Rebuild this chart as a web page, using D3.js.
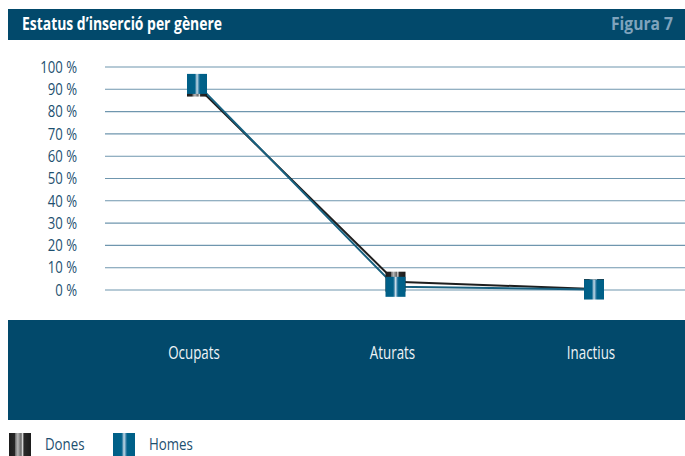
<!DOCTYPE html>
<html><head><meta charset="utf-8">
<script src="https://cdn.jsdelivr.net/npm/d3@7"></script>
<style>
body{margin:0;background:#fff;}
svg{display:block;}
text{font-family:"Open Sans",sans-serif;}
</style></head>
<body><svg id="c" width="685" height="456"></svg>
<script>
const categories = ["Ocupats","Aturats","Inactius"];
const dones = [91, 3.5, 0.2];
const homes = [92.2, 1.2, 0];
const yTicks = [0,10,20,30,40,50,60,70,80,90,100];
const seriesNames = ["Dones","Homes"];
const title = "Estatus d’inserció per gènere";
const figLabel = "Figura 7";

const svg = d3.select("#c");
const navy = "#02496b";
const defs = svg.append("defs");

function grad(id, stops){
  const g = defs.append("linearGradient").attr("id",id).attr("x1","0%").attr("x2","100%").attr("y1","0%").attr("y2","0%");
  stops.forEach(s=>g.append("stop").attr("offset",s[0]+"%").attr("stop-color",s[1]));
}
grad("gD",[[0,"#1c1c1c"],[25,"#262626"],[30,"#7a7a7a"],[40,"#b5b5b5"],[48,"#8a8a8a"],[55,"#6a6a6a"],[62,"#e0e0e0"],[68,"#2a2a2a"],[100,"#1c1c1c"]]);
grad("gH",[[0,"#005f87"],[38,"#00628a"],[44,"#4f8fb0"],[50,"#c6dbe6"],[55,"#7fb0cc"],[60,"#2f7aa0"],[66,"#00628a"],[100,"#005f87"]]);

// header
svg.append("rect").attr("x",8).attr("y",9).attr("width",677).attr("height",31).attr("fill",navy);
svg.append("text").attr("x",22).attr("y",30).attr("fill","#fff").attr("font-weight","bold").attr("font-size",17).text(title).attr("data-w",200);
svg.append("text").attr("x",673).attr("y",30).attr("text-anchor","end").attr("fill","#7fa3bd").attr("font-weight","bold").attr("font-size",17).text(figLabel).attr("data-w",62);

const y = d3.scaleLinear().domain([0,100]).range([289.5,66.5]);
const x = d3.scalePoint().domain(categories).range([197,594]);

// grid
const yAxis = d3.axisLeft(y).tickValues(yTicks).tickSize(-580).tickFormat(d=>d+" %");
const ga = svg.append("g").attr("transform","translate(105,0)").call(yAxis);
ga.select(".domain").remove();
ga.selectAll(".tick line").attr("stroke","#6f96ae").attr("stroke-width",1.1);
ga.selectAll(".tick text").attr("x",-28).attr("fill","#1d4f6f").attr("font-size",16).attr("dy","0.36em").attr("font-family","Open Sans").attr("data-k",0.82);

// bottom band
svg.append("rect").attr("x",8).attr("y",320).attr("width",677).attr("height",100).attr("fill",navy);
svg.append("g").selectAll("text").data(categories).join("text")
  .attr("x",d=>x(d)-3).attr("y",359).attr("text-anchor","middle").attr("fill","#eef3f6").attr("font-size",18).attr("data-k",0.74).text(d=>d);

// lines
const line = d3.line().x((d,i)=>x(categories[i])).y(d=>y(d));
svg.append("path").datum(dones).attr("d",line).attr("fill","none").attr("stroke","#1e1e1e").attr("stroke-width",2);
svg.append("path").datum(homes).attr("d",line).attr("fill","none").attr("stroke","#17607f").attr("stroke-width",2);

const ms = 20;
svg.append("g").selectAll("rect").data(dones).join("rect")
  .attr("x",(d,i)=>x(categories[i])-ms/2).attr("y",d=>y(d)-ms/2).attr("width",ms).attr("height",ms).attr("fill","url(#gD)");
svg.append("g").selectAll("rect").data(homes).join("rect")
  .attr("x",(d,i)=>x(categories[i])-ms/2).attr("y",d=>y(d)-ms/2).attr("width",ms).attr("height",ms).attr("fill","url(#gH)");

// legend
const leg = svg.append("g");
const lx = [9, 113];
seriesNames.forEach((n,i)=>{
  leg.append("rect").attr("x",lx[i]).attr("y",433).attr("width",22).attr("height",23).attr("fill",i===0?"url(#gD)":"url(#gH)");
  leg.append("text").attr("x",lx[i]+36).attr("y",450).attr("fill","#1d4f6f").attr("font-size",17).attr("data-k",0.78).text(n);
});

// condense text to mimic a condensed face
svg.selectAll("text").each(function(){
  const el = d3.select(this);
  const w = this.getComputedTextLength();
  const fixed = el.attr("data-w");
  const k = el.attr("data-k");
  const target = fixed ? +fixed : w*(k ? +k : 1);
  el.attr("textLength",target).attr("lengthAdjust","spacingAndGlyphs");
});
</script></body></html>
